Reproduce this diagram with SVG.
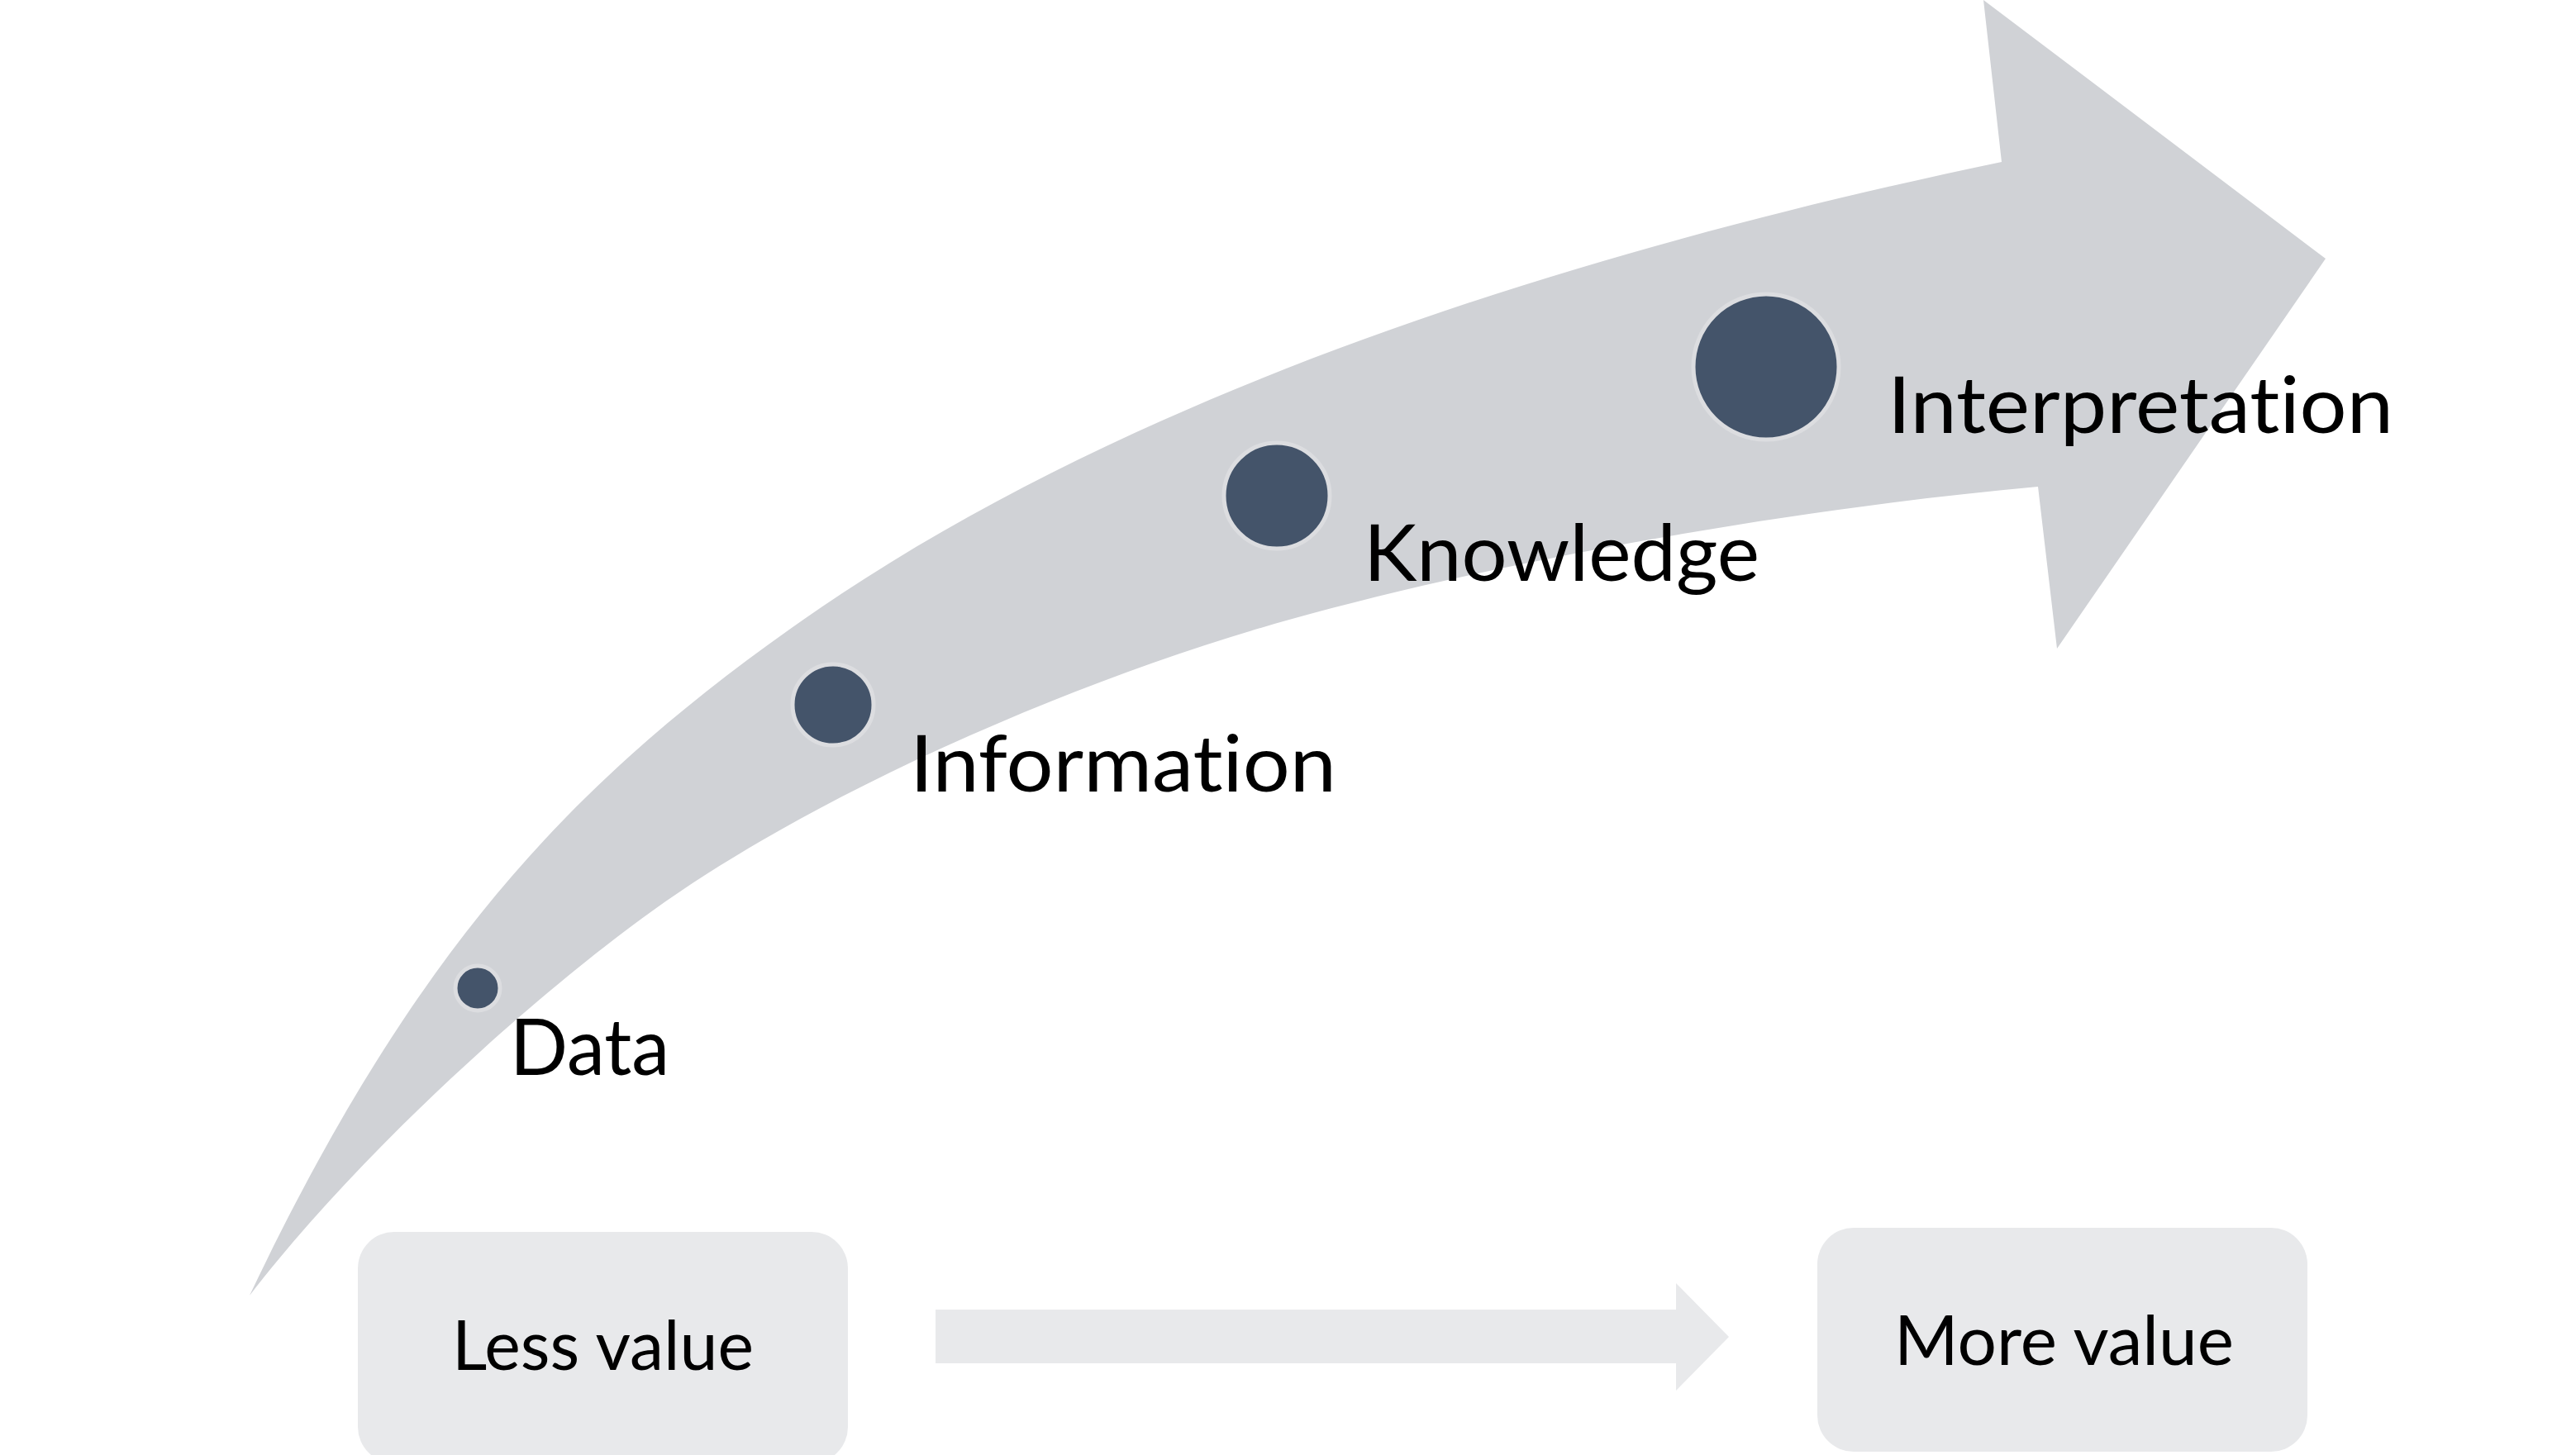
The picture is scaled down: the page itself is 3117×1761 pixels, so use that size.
<svg xmlns="http://www.w3.org/2000/svg" width="3117" height="1761" viewBox="0 0 3117 1761">
<style>
.lbl{font-family:Lato,"Open Sans","Liberation Sans",sans-serif;fill:#000;font-variant-ligatures:none;font-feature-settings:"liga" 0}
.big{font-size:95px}
.small{font-size:83px}
.dot{fill:#44546A;stroke:#DCDDE0;stroke-width:5}
.box{fill:#E8E9EB}
</style>
<rect width="3117" height="1761" fill="#FFFFFF"/>
<g id="connectors">
<path id="main-arrow" fill="#D0D2D6" d="M302,1568 C502,1148 692,946 972,750 C1402,449 1992,286 2422,196 L2400,0 L2814,313 L2489,785 L2466,589 C2166,616 1810,680 1560,750 C1303,822 990,958 790,1102 C640,1210 432,1399 302,1568 Z"/>
<path id="value-arrow" fill="#E8E9EB" d="M1132,1585 L2028,1585 L2028,1553 L2092,1618 L2028,1683 L2028,1650 L1132,1650 Z"/>
</g>
<g id="node-data">
<circle class="dot" cx="578" cy="1196" r="27"/>
<text class="lbl big" x="617" y="1301" textLength="193" lengthAdjust="spacingAndGlyphs">Data</text>
</g>
<g id="node-information">
<circle class="dot" cx="1008" cy="853" r="49"/>
<text class="lbl big" x="1101" y="958" textLength="516" lengthAdjust="spacingAndGlyphs">Information</text>
</g>
<g id="node-knowledge">
<circle class="dot" cx="1545" cy="600" r="64"/>
<text class="lbl big" x="1650" y="703" textLength="479" lengthAdjust="spacingAndGlyphs">Knowledge</text>
</g>
<g id="node-interpretation">
<circle class="dot" cx="2137" cy="444" r="88"/>
<text class="lbl big" x="2284" y="524" textLength="612" lengthAdjust="spacingAndGlyphs">Interpretation</text>
</g>
<g id="node-less-value">
<rect class="box" x="433" y="1491" width="593" height="280" rx="44" ry="44"/>
<text class="lbl small" x="547" y="1658" textLength="365" lengthAdjust="spacingAndGlyphs">Less value</text>
</g>
<g id="node-more-value">
<rect class="box" x="2199" y="1486" width="593" height="271" rx="44" ry="44"/>
<text class="lbl small" x="2292" y="1652" textLength="411" lengthAdjust="spacingAndGlyphs">More value</text>
</g>
</svg>
